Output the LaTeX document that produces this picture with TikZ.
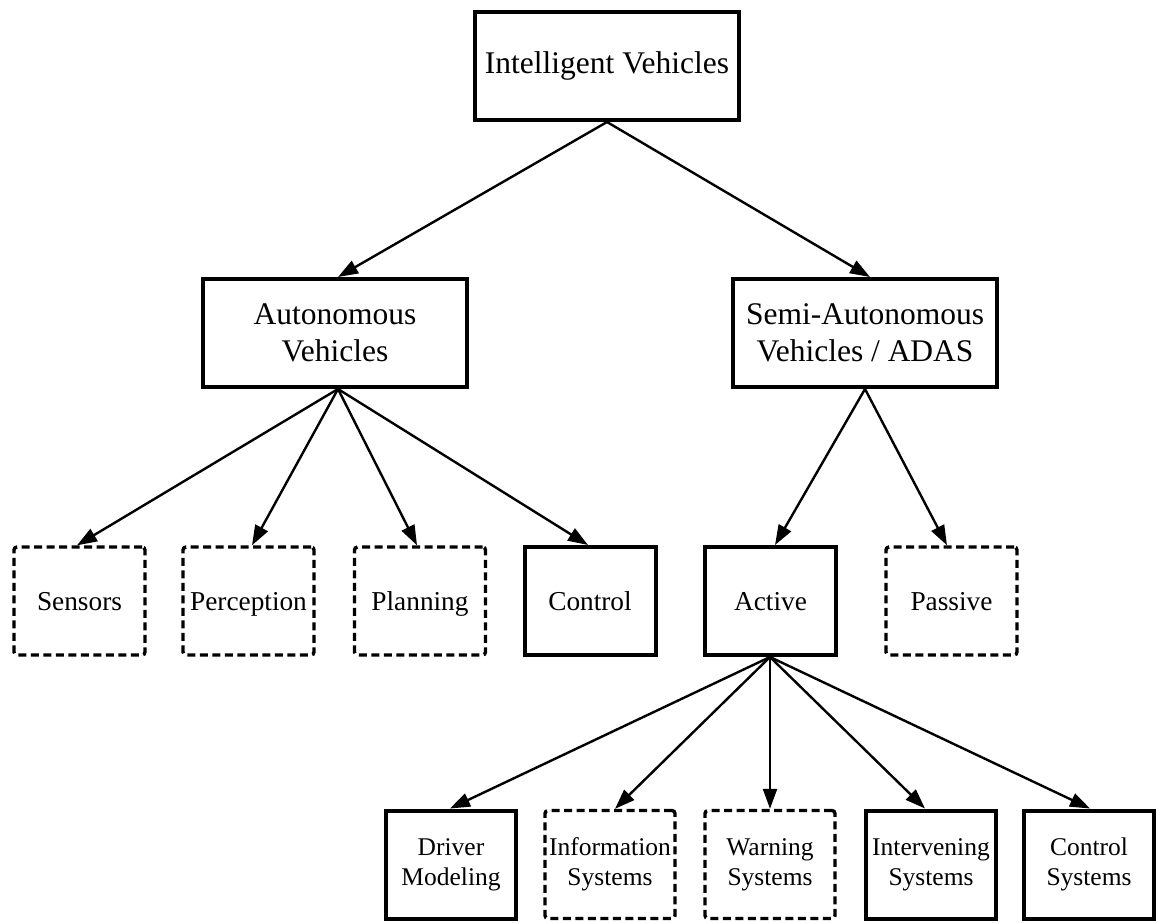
\documentclass[tikz,border=0pt]{standalone}
\usepackage{fontspec}
\setmainfont{Liberation Serif}
\usetikzlibrary{arrows.meta}

\begin{document}
\begin{tikzpicture}[x=1pt, y=-1pt,
  base/.style={draw=black, fill=white, text=black, align=center, inner sep=0pt},
  solidbox/.style={base, line width=4pt},
  dashbox/.style={base, line width=3.4pt, dash pattern=on 8pt off 4.5pt, rounded corners=3pt},
  upper/.style={minimum width=264pt, minimum height=108pt, font=\fontsize{31.5}{37}\selectfont},
  leaf/.style={minimum width=131pt, minimum height=108pt, text height=18pt, text depth=0pt,
               font=\fontsize{27.3}{30}\selectfont},
  sub/.style={minimum width=130pt, minimum height=108pt, font=\fontsize{25.5}{30}\selectfont},
  link/.style={-{Triangle[length=20pt, width=14pt]}, line width=2.4pt, draw=black}
]
\useasboundingbox (0,0) rectangle (1156,922);

% root
\node[solidbox, upper] (iv) at (607,66) {Intelligent Vehicles};

% second level
\node[solidbox, upper] (aut)  at (335,333) {Autonomous\\Vehicles};
\node[solidbox, upper] (semi) at (865,333) {Semi-Autonomous\\Vehicles / ADAS};

% autonomous pipeline
\node[dashbox,  leaf] (sens) at (79.5,601)  {Sensors};
\node[dashbox,  leaf] (perc) at (248.5,601) {Perception};
\node[dashbox,  leaf] (plan) at (420,601)   {Planning};
\node[solidbox, leaf] (ctrl) at (590,601)   {Control};

% ADAS branches
\node[solidbox, leaf] (act) at (770.5,601) {Active};
\node[dashbox,  leaf] (pas) at (951.5,601) {Passive};

% active systems
\node[solidbox, sub] (drv)  at (451,864.5)  {Driver\\Modeling};
\node[dashbox,  sub] (info) at (610,864.5)  {Information\\Systems};
\node[dashbox,  sub] (warn) at (770,864.5)  {Warning\\Systems};
\node[solidbox, sub] (intv) at (931,864.5)  {Intervening\\Systems};
\node[solidbox, sub] (csys) at (1089,864.5) {Control\\Systems};

% connectors
\draw[link] (iv.south) -- ([xshift=3pt]aut.north);
\draw[link] (iv.south) -- ([xshift=5pt]semi.north);

\draw[link] ([xshift=3pt]aut.south) -- ([xshift=-2.5pt]sens.north);
\draw[link] ([xshift=3pt]aut.south) -- ([xshift=3.5pt]perc.north);
\draw[link] ([xshift=3pt]aut.south) -- ([xshift=-3pt]plan.north);
\draw[link] ([xshift=3pt]aut.south) -- ([xshift=-2pt]ctrl.north);

\draw[link] (semi.south) -- ([xshift=4.5pt]act.north);
\draw[link] (semi.south) -- ([xshift=-4.5pt]pas.north);

\draw[link] ([xshift=-0.5pt]act.south) -- ([xshift=-1pt]drv.north);
\draw[link] ([xshift=-0.5pt]act.south) -- ([xshift=5pt]info.north);
\draw[link] ([xshift=-0.5pt]act.south) -- (warn.north);
\draw[link] ([xshift=-0.5pt]act.south) -- ([xshift=-6pt]intv.north);
\draw[link] ([xshift=-0.5pt]act.south) -- ([xshift=1pt]csys.north);
\end{tikzpicture}
\end{document}
